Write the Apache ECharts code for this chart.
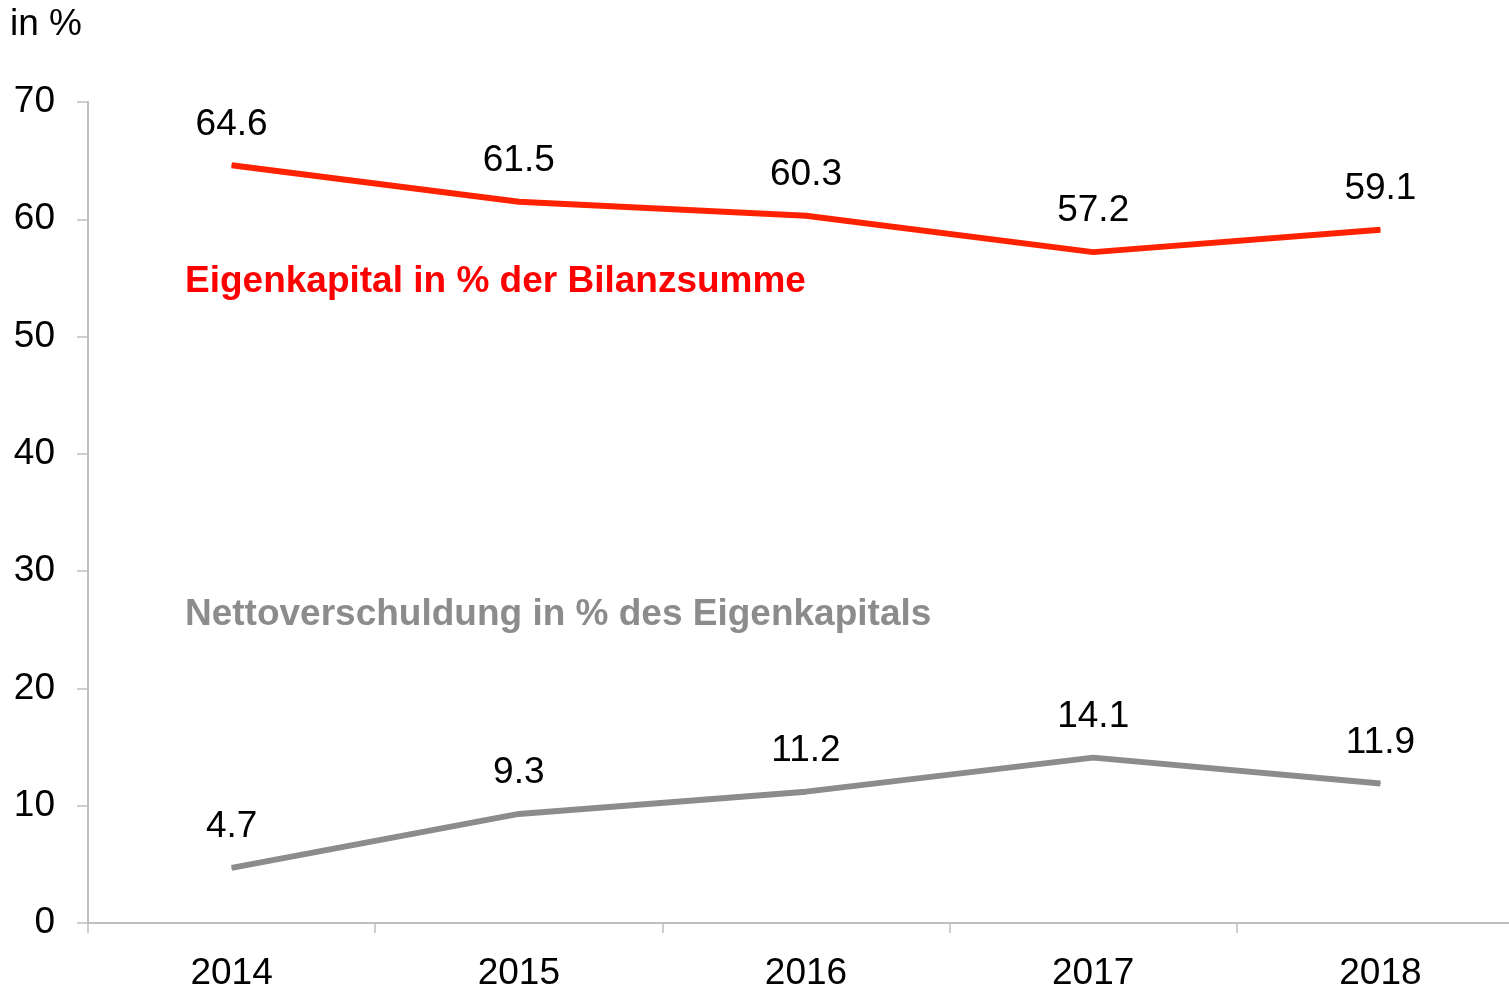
<!DOCTYPE html>
<html>
<head>
<meta charset="utf-8">
<script src="https://cdn.jsdelivr.net/npm/echarts@6/dist/echarts.min.js"></script>
<style>
  html, body { margin: 0; padding: 0; background: #fff; overflow: hidden; }
  #chart { width: 1509px; height: 987px; }
</style>
</head>
<body>
<div id="chart"></div>
<script>
// data
const years = ["2014", "2015", "2016", "2017", "2018"];
const eigenkapital = [64.6, 61.5, 60.3, 57.2, 59.1];
const nettoverschuldung = [4.7, 9.3, 11.2, 14.1, 11.9];
const yTicks = { min: 0, max: 70, interval: 10 };

const FONT = '"Liberation Sans", Arial, sans-serif';
const FS = 37;
const RED = "#ff2200";
const GREY = "#8c8c8c";
const AXIS = "#bfbfbf";

const chart = echarts.init(document.getElementById("chart"));

function lineSeries(name, data, color) {
  return {
    name: name,
    type: "line",
    data: data,
    symbol: "circle",
    symbolSize: 1,
    showSymbol: true,
    itemStyle: { color: color },
    lineStyle: { color: color, width: 6 },
    label: {
      show: true,
      position: "top",
      distance: 22,
      color: "#000",
      fontSize: FS,
      lineHeight: FS,
      fontFamily: FONT,
      formatter: p => p.value.toFixed(1)
    },
    animation: false
  };
}

chart.setOption({
  backgroundColor: "#fff",
  // the plot area runs a little past the right edge of the picture,
  // so don't let echarts squeeze it back inside
  grid: {
    left: 88, top: 102, width: 1436, height: 821,
    containLabel: false,
    outerBoundsMode: "none"
  },
  xAxis: {
    type: "category",
    data: years,
    boundaryGap: true,
    axisLine: { lineStyle: { color: AXIS, width: 2 } },
    axisTick: { show: true, length: 10, lineStyle: { color: AXIS, width: 1.5 } },
    axisLabel: { color: "#000", fontSize: FS, fontFamily: FONT, margin: 32 },
    splitLine: { show: false }
  },
  yAxis: {
    type: "value",
    min: yTicks.min,
    max: yTicks.max,
    interval: yTicks.interval,
    axisLine: { show: true, lineStyle: { color: AXIS, width: 2 } },
    axisTick: { show: true, length: 11, lineStyle: { color: AXIS, width: 1.5 } },
    axisLabel: { color: "#000", fontSize: FS, fontFamily: FONT, margin: 33, padding: [6, 0, 0, 0] },
    splitLine: { show: false }
  },
  graphic: [
    {
      type: "text",
      left: 10,
      top: 6,
      style: { text: "in %", fill: "#000", font: FS + "px " + FONT }
    },
    {
      type: "text",
      left: 185,
      top: 263,
      style: { text: "Eigenkapital in % der Bilanzsumme", fill: "#ff0000", font: "bold " + FS + "px " + FONT }
    },
    {
      type: "text",
      left: 185,
      top: 596,
      style: { text: "Nettoverschuldung in % des Eigenkapitals", fill: GREY, font: "bold " + FS + "px " + FONT }
    }
  ],
  series: [
    lineSeries("Eigenkapital in % der Bilanzsumme", eigenkapital, RED),
    lineSeries("Nettoverschuldung in % des Eigenkapitals", nettoverschuldung, GREY)
  ]
});
</script>
</body>
</html>
